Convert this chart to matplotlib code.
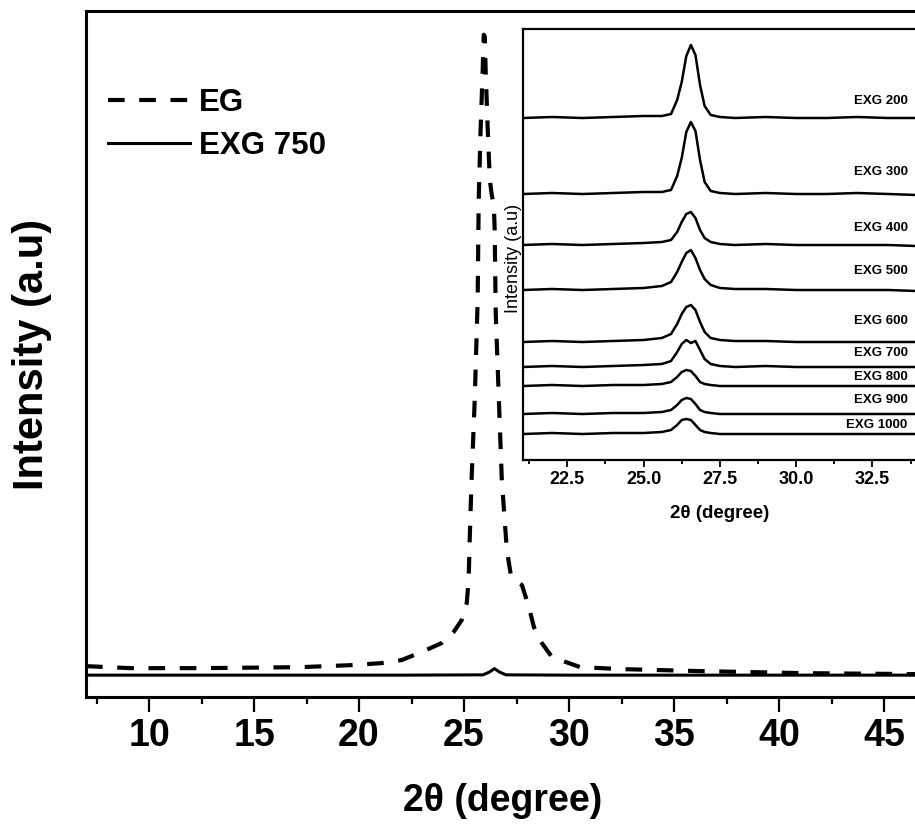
import matplotlib
matplotlib.use("Agg")
import matplotlib.pyplot as plt

plt.rcParams['font.family'] = ['Liberation Sans', 'DejaVu Sans']

# main pattern: EG (dashed) and EXG 750 (solid)
eg_x = [7.0, 9.1, 12.45, 17.23, 19.63, 21.06, 22.02, 22.97, 23.93, 24.5, 24.89,
        25.13, 25.22, 25.27, 25.36, 25.51, 25.65, 25.7, 25.79, 25.89, 25.94,
        25.99, 26.03, 26.13, 26.23, 26.32, 26.42, 26.46, 26.51, 26.66, 26.8,
        27.04, 27.23, 27.42, 27.76, 28.09, 28.33, 28.71, 29.19, 30.0, 30.53,
        32.54, 36.36, 41.15, 46.65]
eg_y = [31, 29, 29, 30, 32, 34, 37, 45, 54, 65, 77,
        94, 117, 157, 217, 297, 397, 497, 567, 627, 662,
        660, 627, 567, 517, 502, 492, 467, 384, 297, 217,
        147, 122, 117, 112, 90, 70, 54, 40, 34, 30,
        28, 26, 24, 23]

exg750_x = [7.0, 15.0, 22.0, 25.9, 26.2, 26.45, 26.7, 27.0, 30.0, 38.0, 46.65]
exg750_y = [22, 22, 22, 22.3, 25, 28.5, 25, 22.3, 22, 22, 22]

# inset patterns, offset stacked
inset_x = [21.05, 22.0, 23.0, 24.0, 25.0, 25.6, 25.9, 26.1, 26.25, 26.4, 26.55,
           26.7, 26.85, 27.0, 27.2, 27.5, 28.0, 29.0, 30.0, 31.0, 32.0, 33.0, 33.94]
inset_names = ["EXG 200", "EXG 300", "EXG 400", "EXG 500", "EXG 600",
               "EXG 700", "EXG 800", "EXG 900", "EXG 1000"]
inset_y = [
    [342, 343, 342, 343, 344, 344, 346, 360, 378, 404, 415, 405, 375, 354, 345, 343, 342, 343, 342, 342, 343, 342, 342],
    [266, 267, 266, 267, 268, 268, 270, 284, 302, 328, 338, 329, 300, 278, 269, 267, 266, 267, 266, 266, 267, 266, 265],
    [215, 216, 215, 216, 217, 218, 220, 228, 238, 246, 248, 242, 230, 222, 218, 216, 215, 216, 215, 215, 215, 215, 214],
    [170, 171, 170, 171, 172, 174, 178, 188, 198, 207, 210, 202, 190, 181, 175, 172, 171, 171, 170, 170, 170, 170, 169],
    [118, 119, 118, 119, 120, 122, 126, 136, 146, 153, 155, 150, 138, 128, 122, 120, 119, 119, 118, 118, 118, 118, 118],
    [93, 94, 93, 94, 95, 96, 99, 108, 116, 120, 117, 119, 110, 101, 96, 94, 93, 94, 93, 93, 93, 93, 93],
    [74, 75, 74, 75, 75, 76, 78, 83, 88, 90, 89, 84, 78, 76, 75, 74, 74, 74, 74, 74, 74, 74, 74],
    [46, 47, 46, 47, 47, 48, 50, 55, 60, 62, 61, 56, 50, 48, 47, 46, 46, 46, 46, 46, 46, 46, 46],
    [26, 27, 26, 27, 27, 28, 30, 35, 40, 41, 40, 35, 30, 28, 27, 26, 26, 26, 26, 26, 26, 26, 26],
]
label_y = [359, 288, 232, 189, 139, 107, 83, 60, 35]

fig = plt.figure(figsize=(9.15, 8.27), dpi=100)

# main axes
ax = fig.add_axes([0.094, 0.157, 0.91, 0.830])
ax.plot(eg_x, eg_y, color='black', lw=3, dashes=(4, 3.5), label='EG')
ax.plot(exg750_x, exg750_y, color='black', lw=2.2, label='EXG 750')
ax.set_xlim(7, 46.65)
ax.set_ylim(0, 686)
ax.set_yticks([])
ax.set_xticks([10, 15, 20, 25, 30, 35, 40, 45])
ax.set_xticks([7.5, 12.5, 17.5, 22.5, 27.5, 32.5, 37.5, 42.5], minor=True)
ax.tick_params(axis='x', which='major', direction='out', length=11, width=1.6,
               labelsize=27, pad=4)
ax.tick_params(axis='x', which='minor', direction='out', length=5, width=1.6)
for lab in ax.get_xticklabels():
    lab.set_fontweight('bold')
for s in ['left', 'top', 'bottom']:
    ax.spines[s].set_linewidth(2.2)
ax.spines['right'].set_visible(False)

leg = ax.legend(loc='upper left', bbox_to_anchor=(0.008, 0.91), frameon=False,
                handlelength=2.6, handletextpad=0.3, labelspacing=0.42,
                borderpad=0, prop={'weight': 'bold', 'size': 22.5})

fig.text(32 / 915, 1 - 354 / 827, 'Intensity (a.u)', rotation=90, ha='center',
         va='center', fontsize=30, fontweight='bold')
fig.text(503 / 915, 1 - 801 / 827, '2\u03b8 (degree)', ha='center', va='center',
         fontsize=27, fontweight='bold')

# inset axes
ins = fig.add_axes([523 / 915, 1 - 460 / 827, 0.43, 431 / 827])
for ys, name, ly in zip(inset_y, inset_names, label_y):
    ins.plot(inset_x, ys, color='black', lw=1.8)
    ins.text(33.65, ly, name, ha='right', va='center', fontsize=9.5,
             fontweight='bold')
ins.set_xlim(21.05, 33.94)
ins.set_ylim(0, 431)
ins.set_yticks([])
ins.set_xticks([22.5, 25.0, 27.5, 30.0, 32.5])
ins.set_xticks([21.25, 23.75, 26.25, 28.75, 31.25, 33.75], minor=True)
ins.set_xticklabels(['22.5', '25.0', '27.5', '30.0', '32.5'],
                    fontsize=13, fontweight='bold')
ins.tick_params(axis='x', which='major', direction='out', length=5, width=1.3, pad=3)
ins.tick_params(axis='x', which='minor', direction='out', length=3, width=1.3)
for s in ['left', 'top', 'bottom']:
    ins.spines[s].set_linewidth(1.6)
ins.spines['right'].set_visible(False)

fig.text(720 / 915, 1 - 514 / 827, '2\u03b8 (degree)', ha='center', va='center',
         fontsize=13.5, fontweight='bold')
fig.text(514 / 915, 1 - 258 / 827, 'Intensity (a.u)', rotation=90, ha='center',
         va='center', fontsize=13)

fig.savefig('out.png', dpi=100)
